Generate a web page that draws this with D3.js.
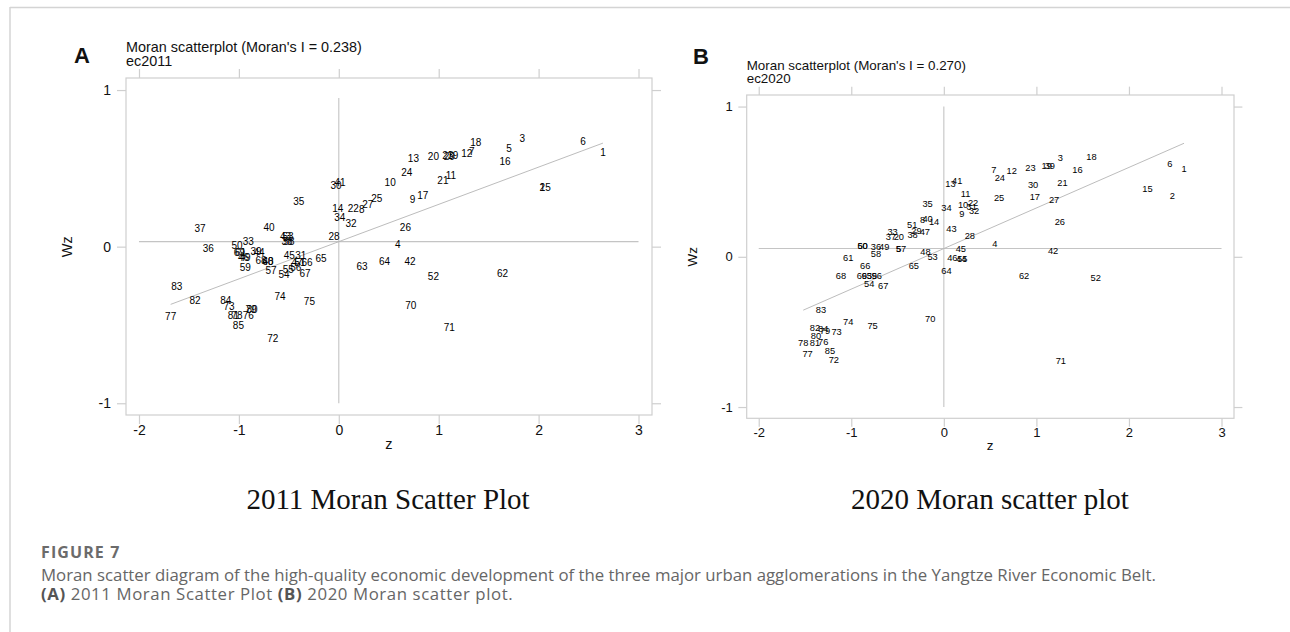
<!DOCTYPE html>
<html><head><meta charset="utf-8">
<script src="https://cdn.jsdelivr.net/npm/d3@7"></script>
<style>
body{margin:0;background:#fff;}
svg{display:block;}
</style>
</head><body>
<svg id="chart" width="1290" height="632"></svg>
<script>
// ---------------- data ----------------
const cityIds = [1,2,3,4,5,6,7,8,9,10,11,12,13,14,15,16,17,18,19,20,21,22,23,24,25,26,27,28,29,30,
  31,32,33,34,35,36,37,38,39,40,41,42,43,44,45,46,47,48,49,50,51,52,53,54,55,56,57,58,59,60,
  61,62,63,64,65,66,67,68,69,70,71,72,73,74,75,76,77,78,79,80,81,82,83,84,85];

const z2011 = [2.644,2.036,1.836,0.591,1.703,2.444,1.332,0.230,0.737,0.514,
  1.122,1.282,0.747,-0.010,2.066,1.663,0.841,1.372,1.142,0.947,
  1.042,0.146,1.092,0.681,0.381,0.667,0.290,-0.047,1.105,-0.027,
  -0.381,0.123,-0.905,0.010,-0.401,-1.306,-1.389,-0.518,-0.828,-0.698,
  0.013,0.714,-0.533,-0.798,-0.495,-0.953,-0.418,-0.708,-0.938,-1.019,
  -0.388,0.947,-0.508,-0.548,-0.505,-0.431,-0.678,-0.498,-0.935,-0.711,
  -0.983,1.638,0.233,0.457,-0.177,-0.317,-0.338,-0.778,-0.995,0.721,
  1.105,-0.661,-1.099,-0.588,-0.294,-0.905,-1.683,-1.018,-0.878,-0.868,
  -1.055,-1.439,-1.622,-1.132,-1.005];
const wz2011 = [0.604,0.379,0.692,0.017,0.630,0.675,0.609,0.239,0.302,0.408,
  0.456,0.596,0.564,0.245,0.379,0.542,0.330,0.664,0.581,0.574,
  0.424,0.245,0.581,0.472,0.309,0.121,0.272,0.064,0.579,0.394,
  -0.059,0.147,0.036,0.186,0.287,-0.010,0.115,0.033,-0.032,0.124,
  0.408,-0.093,0.064,-0.036,-0.059,-0.068,-0.098,-0.091,-0.068,0.011,
  -0.101,-0.191,0.064,-0.179,-0.144,-0.131,-0.149,0.033,-0.131,-0.091,
  -0.036,-0.168,-0.125,-0.091,-0.074,-0.098,-0.170,-0.089,-0.038,-0.374,
  -0.514,-0.583,-0.383,-0.315,-0.347,-0.442,-0.447,-0.436,-0.400,-0.400,
  -0.436,-0.345,-0.251,-0.340,-0.502];

const z2020 = [2.595,2.470,1.260,0.551,-0.486,2.441,0.540,-0.230,0.194,0.208,
  0.234,0.734,0.072,-0.105,2.200,1.444,0.983,1.595,1.112,-0.486,
  1.282,0.316,0.936,0.605,0.597,1.253,1.191,0.281,-0.295,0.964,
  0.302,0.327,-0.554,0.029,-0.176,-0.734,-0.572,-0.338,1.145,-0.176,
  0.144,1.180,0.083,0.191,0.184,0.092,-0.205,-0.198,-0.645,-0.878,
  -0.342,1.641,-0.122,-0.807,0.200,-0.724,-0.464,-0.734,-0.778,-0.878,
  -1.033,0.867,-0.832,0.029,-0.324,-0.850,-0.655,-1.112,-0.886,-0.148,
  1.264,-1.188,-1.159,-1.033,-0.770,-1.303,-1.472,-1.519,-1.285,-1.382,
  -1.393,-1.393,-1.328,-1.303,-1.231];
const wz2020 = [0.585,0.407,0.658,0.086,0.055,0.620,0.580,0.248,0.288,0.348,
  0.419,0.573,0.487,0.235,0.452,0.580,0.399,0.664,0.607,0.133,
  0.492,0.359,0.591,0.529,0.392,0.237,0.381,0.138,0.175,0.480,
  0.331,0.308,0.170,0.326,0.354,0.066,0.135,0.148,0.607,0.252,
  0.505,0.044,0.190,-0.011,0.053,-0.007,0.166,0.037,0.070,0.075,
  0.215,-0.136,0.000,-0.179,-0.015,-0.124,0.055,0.020,-0.124,0.075,
  -0.003,-0.124,-0.124,-0.091,-0.056,-0.062,-0.189,-0.124,-0.124,-0.410,
  -0.691,-0.687,-0.498,-0.435,-0.461,-0.567,-0.645,-0.571,-0.490,-0.528,
  -0.571,-0.472,-0.350,-0.478,-0.627];

const xTickValues = [-2,-1,0,1,2,3];
const yTickValues = [-1,0,1];
const moranI = [0.238, 0.270];
const meanWz = [0.032, 0.055];
const varNames = ["ec2011", "ec2020"];
const panelLetters = ["A", "B"];
const subCaptions = ["2011 Moran Scatter Plot", "2020 Moran scatter plot"];
const figureLabel = "FIGURE 7";
const captionLine1 = "Moran scatter diagram of the high-quality economic development of the three major urban agglomerations in the Yangtze River Economic Belt.";
const captionLine2 = [["(A)", true], [" 2011 Moran Scatter Plot ", false], ["(B)", true], [" 2020 Moran scatter plot.", false]];

// ---------------- layout ----------------
const panels = [
  {z: z2011, wz: wz2011, I: moranI[0], mean: meanWz[0], name: varNames[0], letter: panelLetters[0], cap: subCaptions[0],
   left: 126, right: 652, top: 78, bottom: 415, fs: 1.0, vTop: 0.95,
   letterX: 82, letterY: 63, titleY: 52, capX: 388},
  {z: z2020, wz: wz2020, I: moranI[1], mean: meanWz[1], name: varNames[1], letter: panelLetters[1], cap: subCaptions[1],
   left: 746.7, right: 1234, top: 95, bottom: 418.3, fs: 0.93, vTop: 1,
   letterX: 701, letterY: 64, titleY: 70, capX: 990}
];
const xDomain = [-2.13, 3.135];
const yDomain = [-1.075, 1.077];

const svg = d3.select("#chart");
const sans = "'Liberation Sans', Arial, Helvetica, sans-serif";
const frameCol = "#cfcfcf";
const plainNum = d => String(d);   // hyphen-minus as in the original

// outer figure frame
svg.append("line").attr("x1", 10).attr("x2", 1290).attr("y1", 7.5).attr("y2", 7.5)
  .attr("stroke", "#d4d4d4").attr("stroke-width", 1.5);
svg.append("line").attr("x1", 10).attr("x2", 10).attr("y1", 7).attr("y2", 632)
  .attr("stroke", "#d4d4d4").attr("stroke-width", 1.5);

panels.forEach(p => {
  const x = d3.scaleLinear().domain(xDomain).range([p.left, p.right]);
  const y = d3.scaleLinear().domain(yDomain).range([p.bottom, p.top]);
  const g = svg.append("g");
  const tick = 9 * p.fs;
  const tfs = 14 * p.fs;

  // panel letter
  g.append("text").attr("x", p.letterX).attr("y", p.letterY).attr("text-anchor", "middle")
    .attr("font-family", sans).attr("font-weight", "bold").attr("font-size", 22)
    .attr("fill", "#111").text(p.letter);

  // titles
  g.append("text").attr("x", p.left).attr("y", p.titleY)
    .attr("font-family", sans).attr("font-size", 14.4 * p.fs).attr("fill", "#111")
    .text(`Moran scatterplot (Moran's I = ${p.I.toFixed(3)})`);
  g.append("text").attr("x", p.left).attr("y", p.titleY + 14 * p.fs)
    .attr("font-family", sans).attr("font-size", 14.4 * p.fs).attr("fill", "#111")
    .text(p.name);

  // plot box
  g.append("rect").attr("x", p.left).attr("y", p.top)
    .attr("width", p.right - p.left).attr("height", p.bottom - p.top)
    .attr("fill", "none").attr("stroke", frameCol).attr("stroke-width", 1.2);

  const styleAxis = (sel, showLabels) => {
    sel.select(".domain").remove();
    sel.selectAll(".tick line").attr("stroke", frameCol).attr("stroke-width", 1.2);
    sel.selectAll(".tick text").attr("font-family", sans).attr("font-size", tfs).attr("fill", "#111");
    if (!showLabels) sel.selectAll(".tick text").remove();
  };
  g.append("g").attr("transform", `translate(0,${p.bottom})`)
    .call(d3.axisBottom(x).tickValues(xTickValues).tickSize(tick).tickPadding(1.5).tickFormat(plainNum))
    .call(s => styleAxis(s, true));
  g.append("g").attr("transform", `translate(0,${p.top})`)
    .call(d3.axisTop(x).tickValues(xTickValues).tickSize(tick))
    .call(s => styleAxis(s, false));
  g.append("g").attr("transform", `translate(${p.left},0)`)
    .call(d3.axisLeft(y).tickValues(yTickValues).tickSize(tick).tickPadding(6 * p.fs).tickFormat(plainNum))
    .call(s => styleAxis(s, true));
  g.append("g").attr("transform", `translate(${p.right},0)`)
    .call(d3.axisRight(y).tickValues(yTickValues).tickSize(tick))
    .call(s => styleAxis(s, false));

  // axis titles
  g.append("text").attr("x", x(0.5)).attr("y", p.bottom + 34 * p.fs).attr("text-anchor", "middle")
    .attr("font-family", sans).attr("font-size", 14.5 * p.fs).attr("fill", "#111").text("z");
  g.append("text").attr("transform", `translate(${p.left - 59 * p.fs},${y(0)}) rotate(-90)`)
    .attr("text-anchor", "middle").attr("dy", "0.35em")
    .attr("font-family", sans).attr("font-size", 14.5 * p.fs).attr("fill", "#111").text("Wz");

  // reference lines
  g.append("line").attr("x1", x(xTickValues[0])).attr("x2", x(xTickValues[xTickValues.length - 1]))
    .attr("y1", y(p.mean)).attr("y2", y(p.mean)).attr("stroke", "#c4c4c4").attr("stroke-width", 1.1);
  g.append("line").attr("x1", x(0)).attr("x2", x(0))
    .attr("y1", y(-1)).attr("y2", y(p.vTop)).attr("stroke", "#c4c4c4").attr("stroke-width", 1.1);

  // fitted line (slope = Moran's I through the means)
  const zMin = d3.min(p.z), zMax = d3.max(p.z);
  g.append("line").attr("x1", x(zMin)).attr("x2", x(zMax))
    .attr("y1", y(p.mean + p.I * zMin)).attr("y2", y(p.mean + p.I * zMax))
    .attr("stroke", "#b4b4b4").attr("stroke-width", 0.9);

  // city labels
  g.append("g").selectAll("text").data(cityIds).join("text")
    .attr("x", (d, i) => x(p.z[i])).attr("y", (d, i) => y(p.wz[i]))
    .attr("dy", "0.36em").attr("text-anchor", "middle")
    .attr("font-family", sans).attr("font-size", 10 * p.fs).attr("fill", "#000")
    .text(d => d);

  // sub caption
  g.append("text").attr("x", p.capX).attr("y", 509).attr("text-anchor", "middle")
    .attr("font-family", "'Liberation Serif', 'Times New Roman', serif").attr("font-size", 29)
    .attr("fill", "#111").text(p.cap);
});

// figure caption
const capFont = "'Open Sans', 'Noto Sans', sans-serif";
svg.append("text").attr("x", 41).attr("y", 558).attr("font-family", capFont)
  .attr("font-weight", "bold").attr("font-size", 16).attr("letter-spacing", 1.1)
  .attr("fill", "#6b6b6b").text(figureLabel);
svg.append("text").attr("x", 41).attr("y", 581).attr("font-family", capFont)
  .attr("font-size", 16.8).attr("fill", "#666").text(captionLine1);
const l2 = svg.append("text").attr("x", 41).attr("y", 600).attr("font-family", capFont)
  .attr("font-size", 16.8).attr("letter-spacing", 0.6).attr("fill", "#666");
captionLine2.forEach(([t, b]) => {
  l2.append("tspan").attr("font-weight", b ? "bold" : "normal").attr("fill", b ? "#555" : "#666").text(t);
});
</script>
</body></html>
